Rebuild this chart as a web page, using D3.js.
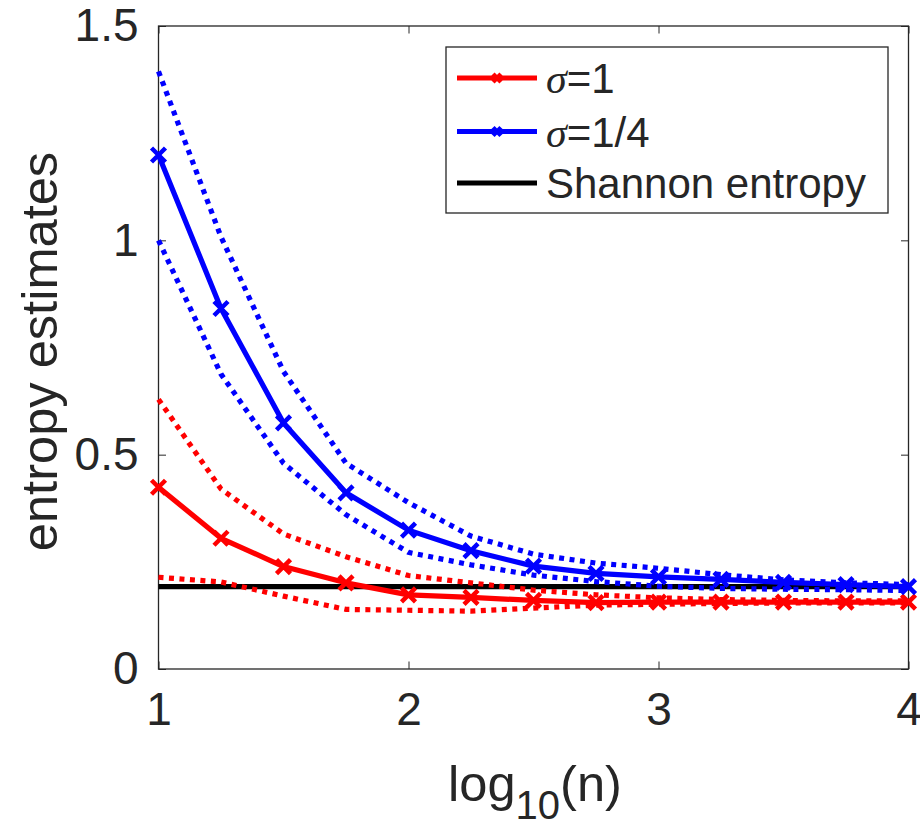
<!DOCTYPE html>
<html lang="en">
<head>
<meta charset="UTF-8">
<title>entropy estimates vs log10(n)</title>
<script src="https://d3js.org/d3.v7.min.js"></script>
<style>
    body { margin: 0; background: #fff; }
    svg text { font-family: "Liberation Sans", Arial, Helvetica, sans-serif; fill: #262626; }
</style>
</head>
<body>
<div id="chart"></div>
<script>
    // x positions: log10(n)
    var logN = [1, 1.25, 1.5, 1.75, 2, 2.25, 2.5, 2.75, 3, 3.25, 3.5, 3.75, 4];

    // sigma = 1 (red): mean and dotted band
    var sigma1Mean  = [0.424, 0.305, 0.239, 0.201, 0.173, 0.167, 0.160, 0.155, 0.156, 0.156, 0.156, 0.156, 0.156];
    var sigma1Upper = [0.629, 0.420, 0.315, 0.262, 0.218, 0.201, 0.184, 0.173, 0.166, 0.162, 0.160, 0.159, 0.159];
    var sigma1Lower = [0.214, 0.203, 0.170, 0.139, 0.137, 0.135, 0.142, 0.149, 0.151, 0.153, 0.154, 0.154, 0.154];

    // sigma = 1/4 (blue)
    var sigma4Mean  = [1.199, 0.841, 0.574, 0.411, 0.324, 0.276, 0.240, 0.223, 0.215, 0.209, 0.202, 0.197, 0.192];
    var sigma4Upper = [1.394, 1.008, 0.694, 0.480, 0.388, 0.310, 0.268, 0.247, 0.235, 0.220, 0.208, 0.201, 0.197];
    var sigma4Lower = [1.000, 0.688, 0.480, 0.360, 0.272, 0.243, 0.219, 0.204, 0.193, 0.188, 0.186, 0.185, 0.183];

    // Shannon entropy reference
    var shannon = 0.192;

    var xTicks = [1, 2, 3, 4];
    var yTicks = [0, 0.5, 1, 1.5];

    var width = 920, height = 820;
    var plotL = 158.5, plotR = 908.5, plotT = 26, plotB = 669;
    var axisColor = "#262626";
    var lw = 5.2;

    var svg = d3.select("#chart").append("svg")
        .attr("width", width)
        .attr("height", height);

    var x = d3.scaleLinear().domain([1, 4]).range([plotL, plotR]);
    var y = d3.scaleLinear().domain([0, 1.5]).range([plotB, plotT]);

    // axes with inward ticks on all four sides
    function styleAxis(g) {
        g.select(".domain").remove();
        g.selectAll(".tick line").attr("stroke", axisColor).attr("stroke-width", 1);
        g.selectAll(".tick text").style("font-size", "46px").attr("fill", axisColor);
    }

    svg.append("g")
        .attr("transform", "translate(0," + plotB + ")")
        .call(d3.axisBottom(x).tickValues(xTicks).tickFormat(d3.format("d")).tickSize(-7.5).tickPadding(23))
        .call(styleAxis)
        .selectAll(".tick text").attr("dy", "0.71em");

    svg.append("g")
        .attr("transform", "translate(0," + plotT + ")")
        .call(d3.axisTop(x).tickValues(xTicks).tickFormat("").tickSize(-7.5))
        .call(styleAxis);

    svg.append("g")
        .attr("transform", "translate(" + plotL + ",0)")
        .call(d3.axisLeft(y).tickValues(yTicks).tickFormat(d3.format("")).tickSize(-7.5).tickPadding(20))
        .call(styleAxis);

    svg.append("g")
        .attr("transform", "translate(" + plotR + ",0)")
        .call(d3.axisRight(y).tickValues(yTicks).tickFormat("").tickSize(-7.5))
        .call(styleAxis);

    // box
    svg.append("rect")
        .attr("x", plotL).attr("y", plotT)
        .attr("width", plotR - plotL).attr("height", plotB - plotT)
        .attr("fill", "none")
        .attr("stroke", axisColor)
        .attr("stroke-width", 1.3);

    var line = d3.line()
        .x(function (d) { return x(d[0]); })
        .y(function (d) { return y(d[1]); });

    function pairs(vals) {
        return logN.map(function (v, i) { return [v, vals[i]]; });
    }

    function drawDotted(vals, color) {
        svg.append("path")
            .attr("d", line(pairs(vals)))
            .attr("fill", "none")
            .attr("stroke", color)
            .attr("stroke-width", lw)
            .attr("stroke-dasharray", "5,5.5");
    }

    function drawX(g, cx, cy, r, color, w) {
        g.append("path")
            .attr("d", "M" + (cx - r) + "," + (cy - r) + "L" + (cx + r) + "," + (cy + r) +
                       "M" + (cx - r) + "," + (cy + r) + "L" + (cx + r) + "," + (cy - r))
            .attr("stroke", color)
            .attr("stroke-width", w)
            .attr("fill", "none");
    }

    function drawMean(vals, color) {
        svg.append("path")
            .attr("d", line(pairs(vals)))
            .attr("fill", "none")
            .attr("stroke", color)
            .attr("stroke-width", lw)
            .attr("stroke-linejoin", "round");
        var g = svg.append("g");
        pairs(vals).forEach(function (d) {
            drawX(g, x(d[0]), y(d[1]), 7, color, 4.5);
        });
    }

    // Shannon entropy (black)
    svg.append("path")
        .attr("d", line([[1, shannon], [4, shannon]]))
        .attr("stroke", "#000")
        .attr("stroke-width", lw);

    drawDotted(sigma1Upper, "#ff0000");
    drawDotted(sigma1Lower, "#ff0000");
    drawMean(sigma1Mean, "#ff0000");

    drawDotted(sigma4Upper, "#0000ff");
    drawDotted(sigma4Lower, "#0000ff");
    drawMean(sigma4Mean, "#0000ff");

    // axis labels
    svg.append("text")
        .attr("transform", "translate(57," + ((plotT + plotB) / 2 + 4) + ") rotate(-90)")
        .attr("text-anchor", "middle")
        .style("font-size", "50.6px")
        .text("entropy estimates");

    var xl = svg.append("text")
        .attr("x", 535)
        .attr("y", 801)
        .attr("text-anchor", "middle")
        .style("font-size", "50.6px");
    xl.append("tspan").text("log");
    xl.append("tspan").attr("dy", 18).style("font-size", "40px").text("10");
    xl.append("tspan").attr("dy", -18).text("(n)");

    // legend
    var legendItems = [
        { label: "=1", sigma: true, color: "#ff0000", marker: true },
        { label: "=1/4", sigma: true, color: "#0000ff", marker: true },
        { label: "Shannon entropy", sigma: false, color: "#000", marker: false }
    ];
    var lg = svg.append("g");
    lg.append("rect")
        .attr("x", 446).attr("y", 47)
        .attr("width", 442).attr("height", 166)
        .attr("fill", "#fff")
        .attr("stroke", axisColor)
        .attr("stroke-width", 1.3);
    var rowY = [78, 131.5, 183];
    legendItems.forEach(function (it, i) {
        var cy = rowY[i];
        lg.append("line")
            .attr("x1", 457).attr("x2", 537)
            .attr("y1", cy).attr("y2", cy)
            .attr("stroke", it.color)
            .attr("stroke-width", lw);
        if (it.marker) drawX(lg, 497, cy, 4, it.color, 4.5);
        var t = lg.append("text")
            .attr("x", 546)
            .attr("y", cy + 15)
            .style("font-size", "42px");
        if (it.sigma) {
            t.append("tspan")
                .style("font-family", "'Liberation Serif', 'Times New Roman', serif")
                .style("font-style", "italic")
                .text("\u03c3");
            t.append("tspan").text(it.label);
        } else {
            t.text(it.label);
        }
    });
</script>
</body>
</html>
